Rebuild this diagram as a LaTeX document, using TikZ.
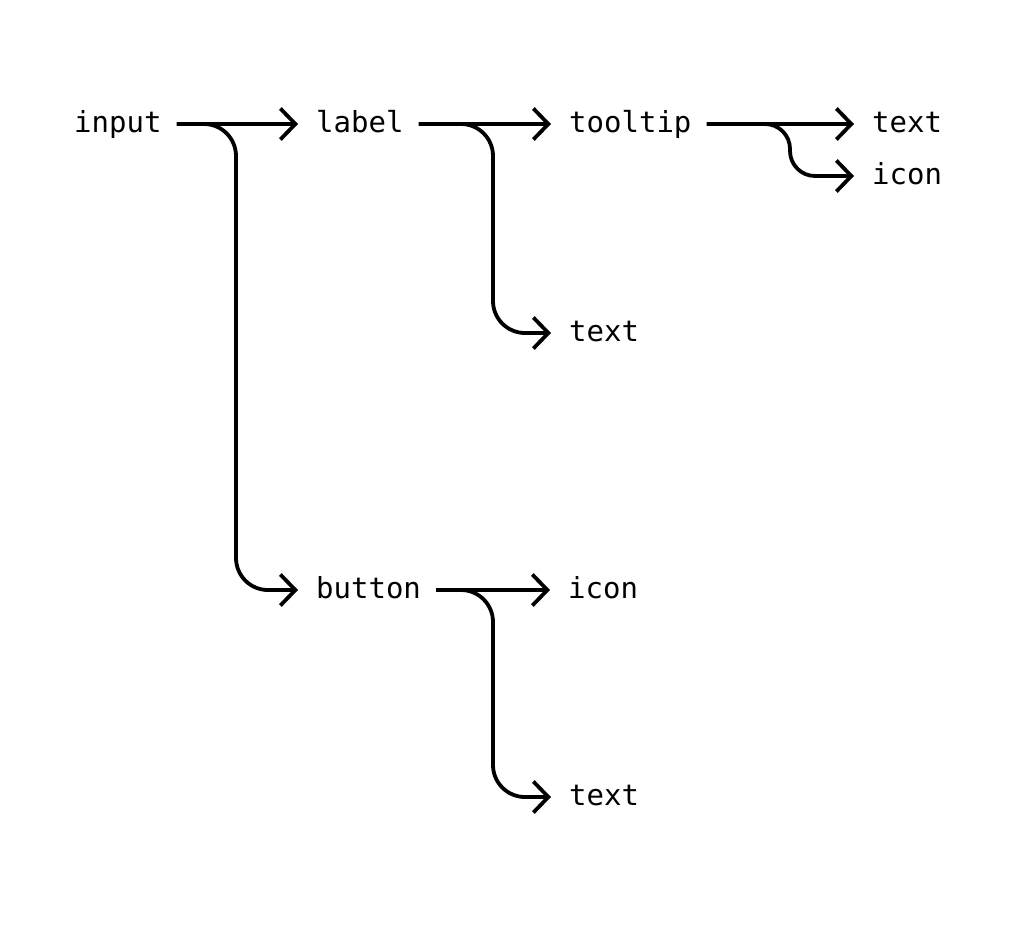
\documentclass[tikz,border=0pt]{standalone}
\usepackage{fontspec}
\setmonofont{DejaVu Sans Mono}
\usetikzlibrary{arrows.meta}
\begin{document}
\begin{tikzpicture}[x=1pt,y=-1pt,
    item/.style={anchor=west, inner sep=0pt, font=\ttfamily\fontsize{29}{34}\selectfont, text height=16pt, text depth=0pt},
    link/.style={line width=3.8pt, -{Straight Barb[length=15pt,width=31pt]}, shorten <=15pt, shorten >=18pt, rounded corners=32pt}]
    \useasboundingbox (0,0) rectangle (1024,924);

    % Nodes
    \node[item] (input) at (74,124) {input};
    \node[item] (label) at (316,124) {label};
    \node[item] (button) at (316,590) {button};
    \node[item] (tooltip) at (569,124) {tooltip};
    \node[item] (labeltext) at (569,333) {text};
    \node[item] (tiptext) at (872,124) {text};
    \node[item] (tipicon) at (872,176) {icon};
    \node[item] (btnicon) at (568,590) {icon};
    \node[item] (btntext) at (569,797) {text};

    % input
    \draw[link] (input.east) -- (label.west);
    \draw[link] (input.east) -| ([xshift=-80pt]button.west) -- (button.west);

    % label
    \draw[link] (label.east) -- (tooltip.west);
    \draw[link] (label.east) -| ([xshift=-76pt]labeltext.west) -- (labeltext.west);

    % tooltip
    \draw[link] (tooltip.east) -- (tiptext.west);
    \draw[link, rounded corners=25pt] (tooltip.east) -| ([xshift=-82pt]tipicon.west) -- (tipicon.west);

    % button
    \draw[link] (button.east) -- (btnicon.west);
    \draw[link] (button.east) -| ([xshift=-76pt]btntext.west) -- (btntext.west);
\end{tikzpicture}
\end{document}
